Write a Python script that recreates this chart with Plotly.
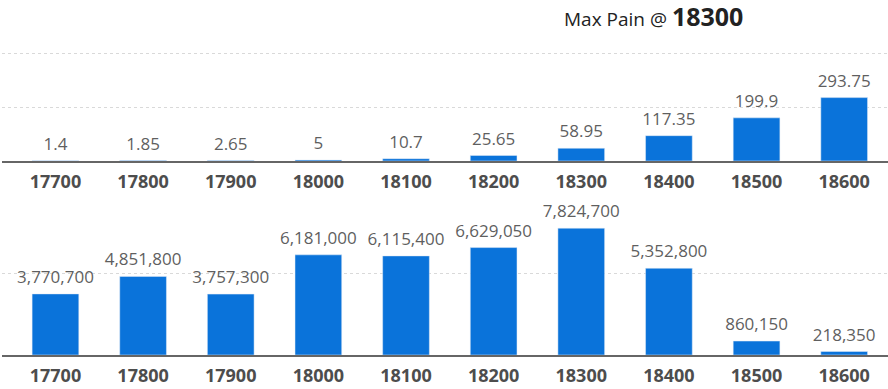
import plotly.graph_objects as go
from plotly.subplots import make_subplots

strikes = ["17700", "17800", "17900", "18000", "18100", "18200", "18300", "18400", "18500", "18600"]
top_values = [1.4, 1.85, 2.65, 5, 10.7, 25.65, 58.95, 117.35, 199.9, 293.75]
top_labels = ["1.4", "1.85", "2.65", "5", "10.7", "25.65", "58.95", "117.35", "199.9", "293.75"]
bottom_values = [3770700, 4851800, 3757300, 6181000, 6115400, 6629050, 7824700, 5352800, 860150, 218350]
max_pain = "18300"

BAR = "#0A73DA"
FONT = "Open Sans"
LABEL_COLOR = "#5f5f5f"

fig = make_subplots(rows=2, cols=1, shared_xaxes=False, vertical_spacing=0.1)
fig.add_trace(go.Bar(x=strikes, y=top_values, marker_color=BAR, width=0.533, hoverinfo="skip"), row=1, col=1)
fig.add_trace(go.Bar(x=strikes, y=bottom_values, marker_color=BAR, width=0.533, hoverinfo="skip"), row=2, col=1)

# value labels as text above the bars (invisible markers give the gap)
fig.add_trace(go.Scatter(x=strikes, y=top_values, mode="markers+text", text=top_labels,
                         textposition="top center", marker=dict(size=9, opacity=0),
                         textfont=dict(family=FONT, size=17, color=LABEL_COLOR),
                         hoverinfo="skip", cliponaxis=False), row=1, col=1)
fig.add_trace(go.Scatter(x=strikes, y=bottom_values, mode="markers+text",
                         text=[f"{v:,}" for v in bottom_values],
                         textposition="top center", marker=dict(size=9, opacity=0),
                         textfont=dict(family=FONT, size=17, color=LABEL_COLOR),
                         hoverinfo="skip", cliponaxis=False), row=2, col=1)

xax = dict(type="category", range=[-0.61, 9.5], showline=True, linecolor="#666", linewidth=2,
           showgrid=False, ticks="", ticklabelstandoff=3,
           tickfont=dict(family=FONT, size=18, color="#4d4d4d", weight="bold"),
           fixedrange=True)
fig.update_xaxes(**xax)

fig.update_yaxes(showticklabels=False, zeroline=False, gridcolor="#d9d9d9", griddash="dot", gridwidth=1,
                 fixedrange=True)
fig.update_yaxes(range=[0, 514], dtick=250, tick0=0, domain=[0.5465, 0.859], row=1, col=1)
fig.update_yaxes(range=[0, 9.01e6], dtick=5e6, tick0=0, domain=[0.0, 0.4113], row=2, col=1)

fig.update_layout(
    width=888, height=389,
    margin=dict(l=2, r=0, t=0, b=34),
    paper_bgcolor="white", plot_bgcolor="white",
    showlegend=False, bargap=0.467,
    font=dict(family=FONT),
    annotations=[dict(x=0.735, y=1 - 16 / 355, xref="paper", yref="paper", yanchor="middle", xanchor="center",
                      text=f"<span style='font-size:19px'>Max Pain @ </span><b style='font-size:25px'>{max_pain}</b>",
                      showarrow=False, font=dict(family=FONT, size=19, color="#222"))],
)
fig.write_html("out.html", config={"displayModeBar": False},
               post_script="document.body.style.margin='0';document.body.style.overflow='hidden';")
